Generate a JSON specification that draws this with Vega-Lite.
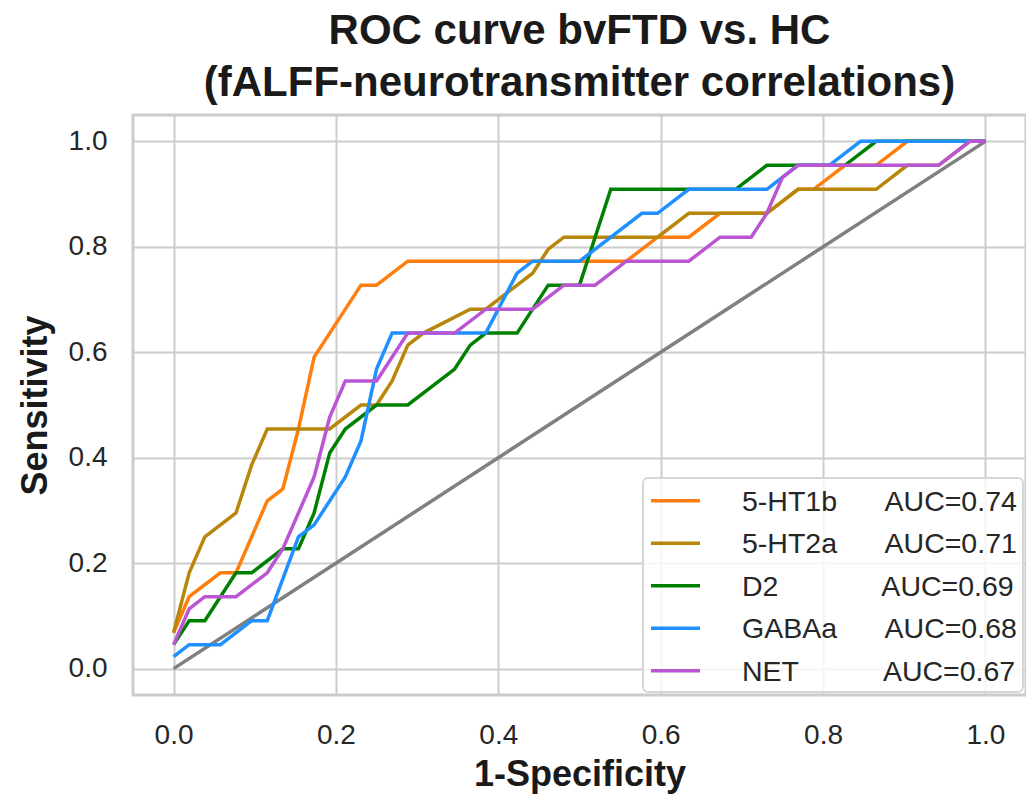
{
  "$schema": "https://vega.github.io/schema/vega-lite/v6.json",
  "width": 893,
  "height": 580,
  "autosize": {"type": "none"},
  "padding": {"left": 133, "top": 115, "right": 0, "bottom": 101},
  "background": "white",
  "title": {
    "text": ["ROC curve bvFTD vs. HC", "(fALFF-neurotransmitter correlations)"],
    "fontSize": 42,
    "fontWeight": "bold",
    "font": "Liberation Sans",
    "color": "#1a1a1a",
    "anchor": "middle",
    "frame": "group",
    "lineHeight": 52,
    "offset": 10
  },
  "config": {
    "font": "Liberation Sans",
    "view": {"stroke": "#cccccc", "strokeWidth": 3},
    "axis": {
      "grid": true,
      "gridColor": "#cccccc",
      "gridWidth": 2,
      "domain": false,
      "ticks": false,
      "labelFontSize": 28,
      "labelColor": "#262626",
      "labelFont": "Liberation Sans",
      "titleFont": "Liberation Sans",
      "titleFontSize": 36,
      "titleFontWeight": "bold",
      "titleColor": "#1a1a1a"
    },
    "legend": {
      "orient": "bottom-right",
      "offset": 3,
      "fillColor": "rgba(255,255,255,0.8)",
      "strokeColor": "#d6d6d6",
      "strokeWidth": 2,
      "cornerRadius": 5,
      "padding": 6,
      "symbolType": "M-1,-0.4H1",
      "symbolStrokeWidth": 3.5,
      "symbolSize": 2401,
      "labelFontSize": 28.5,
      "labelFont": "Liberation Sans",
      "labelColor": "#262626",
      "labelBaseline": "alphabetic",
      "labelOffset": 40,
      "labelLimit": 500,
      "rowPadding": 10.5
    }
  },
  "data": {
    "values": [
      {"series": "5-HT1b", "fpr": 0, "tpr": 0.0682},
      {"series": "5-HT1b", "fpr": 0.0192, "tpr": 0.1364},
      {"series": "5-HT1b", "fpr": 0.0577, "tpr": 0.1818},
      {"series": "5-HT1b", "fpr": 0.0769, "tpr": 0.1818},
      {"series": "5-HT1b", "fpr": 0.1154, "tpr": 0.3182},
      {"series": "5-HT1b", "fpr": 0.1346, "tpr": 0.3409},
      {"series": "5-HT1b", "fpr": 0.1538, "tpr": 0.4545},
      {"series": "5-HT1b", "fpr": 0.1731, "tpr": 0.5909},
      {"series": "5-HT1b", "fpr": 0.2308, "tpr": 0.7273},
      {"series": "5-HT1b", "fpr": 0.25, "tpr": 0.7273},
      {"series": "5-HT1b", "fpr": 0.2885, "tpr": 0.7727},
      {"series": "5-HT1b", "fpr": 0.5577, "tpr": 0.7727},
      {"series": "5-HT1b", "fpr": 0.5962, "tpr": 0.8182},
      {"series": "5-HT1b", "fpr": 0.6346, "tpr": 0.8182},
      {"series": "5-HT1b", "fpr": 0.6731, "tpr": 0.8636},
      {"series": "5-HT1b", "fpr": 0.7308, "tpr": 0.8636},
      {"series": "5-HT1b", "fpr": 0.7692, "tpr": 0.9091},
      {"series": "5-HT1b", "fpr": 0.7885, "tpr": 0.9091},
      {"series": "5-HT1b", "fpr": 0.8269, "tpr": 0.9545},
      {"series": "5-HT1b", "fpr": 0.8654, "tpr": 0.9545},
      {"series": "5-HT1b", "fpr": 0.9038, "tpr": 1},
      {"series": "5-HT1b", "fpr": 1, "tpr": 1},

      {"series": "5-HT2a", "fpr": 0, "tpr": 0.0682},
      {"series": "5-HT2a", "fpr": 0.0192, "tpr": 0.1818},
      {"series": "5-HT2a", "fpr": 0.0385, "tpr": 0.25},
      {"series": "5-HT2a", "fpr": 0.0769, "tpr": 0.2955},
      {"series": "5-HT2a", "fpr": 0.0962, "tpr": 0.3864},
      {"series": "5-HT2a", "fpr": 0.1154, "tpr": 0.4545},
      {"series": "5-HT2a", "fpr": 0.1923, "tpr": 0.4545},
      {"series": "5-HT2a", "fpr": 0.2308, "tpr": 0.5},
      {"series": "5-HT2a", "fpr": 0.25, "tpr": 0.5},
      {"series": "5-HT2a", "fpr": 0.2692, "tpr": 0.5455},
      {"series": "5-HT2a", "fpr": 0.2885, "tpr": 0.6136},
      {"series": "5-HT2a", "fpr": 0.3077, "tpr": 0.6364},
      {"series": "5-HT2a", "fpr": 0.3654, "tpr": 0.6818},
      {"series": "5-HT2a", "fpr": 0.3846, "tpr": 0.6818},
      {"series": "5-HT2a", "fpr": 0.4423, "tpr": 0.75},
      {"series": "5-HT2a", "fpr": 0.4615, "tpr": 0.7955},
      {"series": "5-HT2a", "fpr": 0.4808, "tpr": 0.8182},
      {"series": "5-HT2a", "fpr": 0.5962, "tpr": 0.8182},
      {"series": "5-HT2a", "fpr": 0.6346, "tpr": 0.8636},
      {"series": "5-HT2a", "fpr": 0.7308, "tpr": 0.8636},
      {"series": "5-HT2a", "fpr": 0.7692, "tpr": 0.9091},
      {"series": "5-HT2a", "fpr": 0.8654, "tpr": 0.9091},
      {"series": "5-HT2a", "fpr": 0.9038, "tpr": 0.9545},
      {"series": "5-HT2a", "fpr": 0.9423, "tpr": 0.9545},
      {"series": "5-HT2a", "fpr": 0.9808, "tpr": 1},
      {"series": "5-HT2a", "fpr": 1, "tpr": 1},

      {"series": "D2", "fpr": 0, "tpr": 0.0455},
      {"series": "D2", "fpr": 0.0192, "tpr": 0.0909},
      {"series": "D2", "fpr": 0.0385, "tpr": 0.0909},
      {"series": "D2", "fpr": 0.0769, "tpr": 0.1818},
      {"series": "D2", "fpr": 0.0962, "tpr": 0.1818},
      {"series": "D2", "fpr": 0.1346, "tpr": 0.2273},
      {"series": "D2", "fpr": 0.1538, "tpr": 0.2273},
      {"series": "D2", "fpr": 0.1731, "tpr": 0.2955},
      {"series": "D2", "fpr": 0.1923, "tpr": 0.4091},
      {"series": "D2", "fpr": 0.2115, "tpr": 0.4545},
      {"series": "D2", "fpr": 0.25, "tpr": 0.5},
      {"series": "D2", "fpr": 0.2885, "tpr": 0.5},
      {"series": "D2", "fpr": 0.3462, "tpr": 0.5682},
      {"series": "D2", "fpr": 0.3654, "tpr": 0.6136},
      {"series": "D2", "fpr": 0.3846, "tpr": 0.6364},
      {"series": "D2", "fpr": 0.4231, "tpr": 0.6364},
      {"series": "D2", "fpr": 0.4615, "tpr": 0.7273},
      {"series": "D2", "fpr": 0.5, "tpr": 0.7273},
      {"series": "D2", "fpr": 0.5385, "tpr": 0.9091},
      {"series": "D2", "fpr": 0.6923, "tpr": 0.9091},
      {"series": "D2", "fpr": 0.7308, "tpr": 0.9545},
      {"series": "D2", "fpr": 0.8269, "tpr": 0.9545},
      {"series": "D2", "fpr": 0.8654, "tpr": 1},
      {"series": "D2", "fpr": 1, "tpr": 1},

      {"series": "GABAa", "fpr": 0, "tpr": 0.0227},
      {"series": "GABAa", "fpr": 0.0192, "tpr": 0.0455},
      {"series": "GABAa", "fpr": 0.0577, "tpr": 0.0455},
      {"series": "GABAa", "fpr": 0.0962, "tpr": 0.0909},
      {"series": "GABAa", "fpr": 0.1154, "tpr": 0.0909},
      {"series": "GABAa", "fpr": 0.1538, "tpr": 0.25},
      {"series": "GABAa", "fpr": 0.1731, "tpr": 0.2727},
      {"series": "GABAa", "fpr": 0.2115, "tpr": 0.3636},
      {"series": "GABAa", "fpr": 0.2308, "tpr": 0.4318},
      {"series": "GABAa", "fpr": 0.25, "tpr": 0.5682},
      {"series": "GABAa", "fpr": 0.2692, "tpr": 0.6364},
      {"series": "GABAa", "fpr": 0.3846, "tpr": 0.6364},
      {"series": "GABAa", "fpr": 0.4231, "tpr": 0.75},
      {"series": "GABAa", "fpr": 0.4423, "tpr": 0.7727},
      {"series": "GABAa", "fpr": 0.5, "tpr": 0.7727},
      {"series": "GABAa", "fpr": 0.5769, "tpr": 0.8636},
      {"series": "GABAa", "fpr": 0.5962, "tpr": 0.8636},
      {"series": "GABAa", "fpr": 0.6346, "tpr": 0.9091},
      {"series": "GABAa", "fpr": 0.7308, "tpr": 0.9091},
      {"series": "GABAa", "fpr": 0.7692, "tpr": 0.9545},
      {"series": "GABAa", "fpr": 0.8077, "tpr": 0.9545},
      {"series": "GABAa", "fpr": 0.8462, "tpr": 1},
      {"series": "GABAa", "fpr": 1, "tpr": 1},

      {"series": "NET", "fpr": 0, "tpr": 0.0455},
      {"series": "NET", "fpr": 0.0192, "tpr": 0.1136},
      {"series": "NET", "fpr": 0.0385, "tpr": 0.1364},
      {"series": "NET", "fpr": 0.0769, "tpr": 0.1364},
      {"series": "NET", "fpr": 0.1154, "tpr": 0.1818},
      {"series": "NET", "fpr": 0.1346, "tpr": 0.2273},
      {"series": "NET", "fpr": 0.1731, "tpr": 0.3636},
      {"series": "NET", "fpr": 0.1923, "tpr": 0.4773},
      {"series": "NET", "fpr": 0.2115, "tpr": 0.5455},
      {"series": "NET", "fpr": 0.25, "tpr": 0.5455},
      {"series": "NET", "fpr": 0.2885, "tpr": 0.6364},
      {"series": "NET", "fpr": 0.3462, "tpr": 0.6364},
      {"series": "NET", "fpr": 0.3846, "tpr": 0.6818},
      {"series": "NET", "fpr": 0.4423, "tpr": 0.6818},
      {"series": "NET", "fpr": 0.4808, "tpr": 0.7273},
      {"series": "NET", "fpr": 0.5192, "tpr": 0.7273},
      {"series": "NET", "fpr": 0.5577, "tpr": 0.7727},
      {"series": "NET", "fpr": 0.6346, "tpr": 0.7727},
      {"series": "NET", "fpr": 0.6731, "tpr": 0.8182},
      {"series": "NET", "fpr": 0.7115, "tpr": 0.8182},
      {"series": "NET", "fpr": 0.7308, "tpr": 0.8636},
      {"series": "NET", "fpr": 0.75, "tpr": 0.9318},
      {"series": "NET", "fpr": 0.7692, "tpr": 0.9545},
      {"series": "NET", "fpr": 0.9423, "tpr": 0.9545},
      {"series": "NET", "fpr": 0.9808, "tpr": 1},
      {"series": "NET", "fpr": 1, "tpr": 1}
    ]
  },
  "encoding": {
    "x": {
      "field": "fpr",
      "type": "quantitative",
      "scale": {"domain": [-0.05, 1.05], "nice": false, "zero": false},
      "axis": {"values": [0, 0.2, 0.4, 0.6, 0.8, 1], "format": ".1f", "title": "1-Specificity", "labelPadding": 26, "titlePadding": 8}
    },
    "y": {
      "field": "tpr",
      "type": "quantitative",
      "scale": {"domain": [-0.05, 1.05], "nice": false, "zero": false},
      "axis": {"values": [0, 0.2, 0.4, 0.6, 0.8, 1], "format": ".1f", "title": "Sensitivity", "labelPadding": 26, "titlePadding": 14}
    }
  },
  "layer": [
    {
      "data": {"values": [{"fpr": 0, "tpr": 0}, {"fpr": 1, "tpr": 1}]},
      "mark": {"type": "line", "color": "#808080", "strokeWidth": 3.5}
    },
    {
      "mark": {"type": "line", "strokeWidth": 3.5},
      "encoding": {
        "color": {
          "field": "series",
          "type": "nominal",
          "scale": {
            "domain": ["5-HT1b", "5-HT2a", "D2", "GABAa", "NET"],
            "range": ["#ff7f0e", "#b8860b", "#008000", "#1e90ff", "#ba55d3"]
          },
          "legend": {
            "title": null,
            "labelExpr": "datum.label == '5-HT1b' ? '5-HT1b\u00a0\u00a0\u00a0\u00a0\u00a0\u00a0AUC=0.74' : datum.label == '5-HT2a' ? '5-HT2a\u00a0\u00a0\u00a0\u00a0\u00a0\u00a0AUC=0.71' : datum.label == 'D2' ? 'D2\u00a0\u00a0\u00a0\u00a0\u00a0\u00a0\u00a0\u00a0\u00a0\u00a0\u00a0\u00a0\u00a0AUC=0.69' : datum.label == 'GABAa' ? 'GABAa\u00a0\u00a0\u00a0\u00a0\u00a0\u00a0AUC=0.68' : 'NET\u00a0\u00a0\u00a0\u00a0\u00a0\u00a0\u00a0\u00a0\u00a0\u00a0\u2006AUC=0.67'"
          }
        }
      }
    }
  ]
}
